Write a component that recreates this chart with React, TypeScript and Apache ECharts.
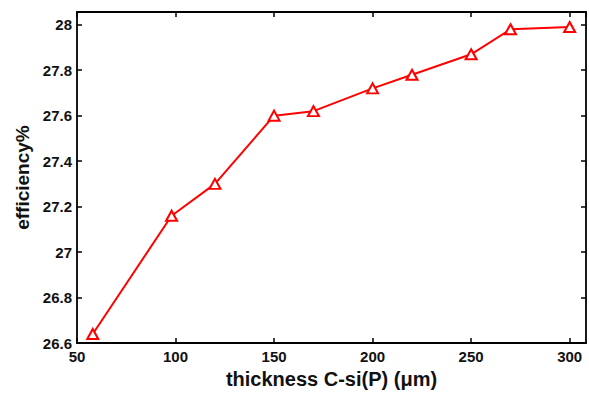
import React, { useEffect, useRef } from "react";
import * as echarts from "echarts";

const thickness = [58, 98, 120, 150, 170, 200, 220, 250, 270, 300];
const efficiency = [26.64, 27.16, 27.3, 27.6, 27.62, 27.72, 27.78, 27.87, 27.98, 27.99];

const xMin = 50;
const xMax = 308.3;
const xInterval = 50;
const yMin = 26.6;
const yMax = 28.056;
const yInterval = 0.2;

const xTitle = "thickness C-si(P) (μm)";
const yTitle = "efficiency%";

const FONT = "'Liberation Sans', Arial, sans-serif";

export default function App() {
  const ref = useRef<HTMLDivElement>(null);

  useEffect(() => {
    if (!ref.current) return;
    const chart = echarts.init(ref.current, undefined, { renderer: "svg" });

    const isTick = (v: number, step: number) =>
      Math.abs(v / step - Math.round(v / step)) < 1e-6;

    const axisLine = { show: true, lineStyle: { color: "#000", width: 1.8 } };
    const axisTick = { show: true, inside: true, length: 5, lineStyle: { color: "#000", width: 1.5 } };

    const labelStyle = {
      color: "#111",
      fontFamily: FONT,
      fontWeight: "bold" as const,
      fontSize: 15,
    };

    chart.setOption({
      animation: false,
      backgroundColor: "#fff",
      grid: { left: 77, right: 3, top: 12, bottom: 45, containLabel: false },
      xAxis: [
        {
          type: "value",
          min: xMin,
          max: xMax,
          interval: xInterval,
          position: "bottom",
          name: xTitle,
          nameLocation: "middle",
          nameGap: 24,
          nameTextStyle: { ...labelStyle, fontSize: 20 },
          axisLine,
          axisTick,
          splitLine: { show: false },
          axisLabel: {
            ...labelStyle,
            margin: 6,
            showMaxLabel: false,
            formatter: (v: number) => (isTick(v, xInterval) ? String(Math.round(v)) : ""),
          },
        },
        {
          type: "value",
          min: xMin,
          max: xMax,
          interval: xInterval,
          position: "top",
          axisLine,
          axisTick,
          splitLine: { show: false },
          axisLabel: { show: false },
        },
      ],
      yAxis: [
        {
          type: "value",
          min: yMin,
          max: yMax,
          interval: yInterval,
          position: "left",
          name: yTitle,
          nameLocation: "middle",
          nameGap: 42,
          nameRotate: 90,
          nameTextStyle: { ...labelStyle, fontSize: 19 },
          axisLine,
          axisTick,
          splitLine: { show: false },
          axisLabel: {
            ...labelStyle,
            margin: 5,
            showMaxLabel: false,
            formatter: (v: number) =>
              isTick(v, yInterval) ? String(Math.round(v * 10) / 10) : "",
          },
        },
        {
          type: "value",
          min: yMin,
          max: yMax,
          interval: yInterval,
          position: "right",
          axisLine,
          axisTick,
          splitLine: { show: false },
          axisLabel: { show: false },
        },
      ],
      series: [
        {
          type: "line",
          xAxisIndex: 0,
          yAxisIndex: 0,
          data: thickness.map((t, i) => [t, efficiency[i]]),
          symbol: "triangle",
          symbolSize: [11, 10],
          showAllSymbol: true,
          lineStyle: { color: "#ff0000", width: 2 },
          itemStyle: { color: "#ffffff", borderColor: "#ff0000", borderWidth: 2 },
          z: 3,
        },
      ],
    });

    return () => chart.dispose();
  }, []);

  return (
    <div
      ref={ref}
      style={{ position: "fixed", left: 0, top: 0, width: 589, height: 394, background: "#fff" }}
    />
  );
}
